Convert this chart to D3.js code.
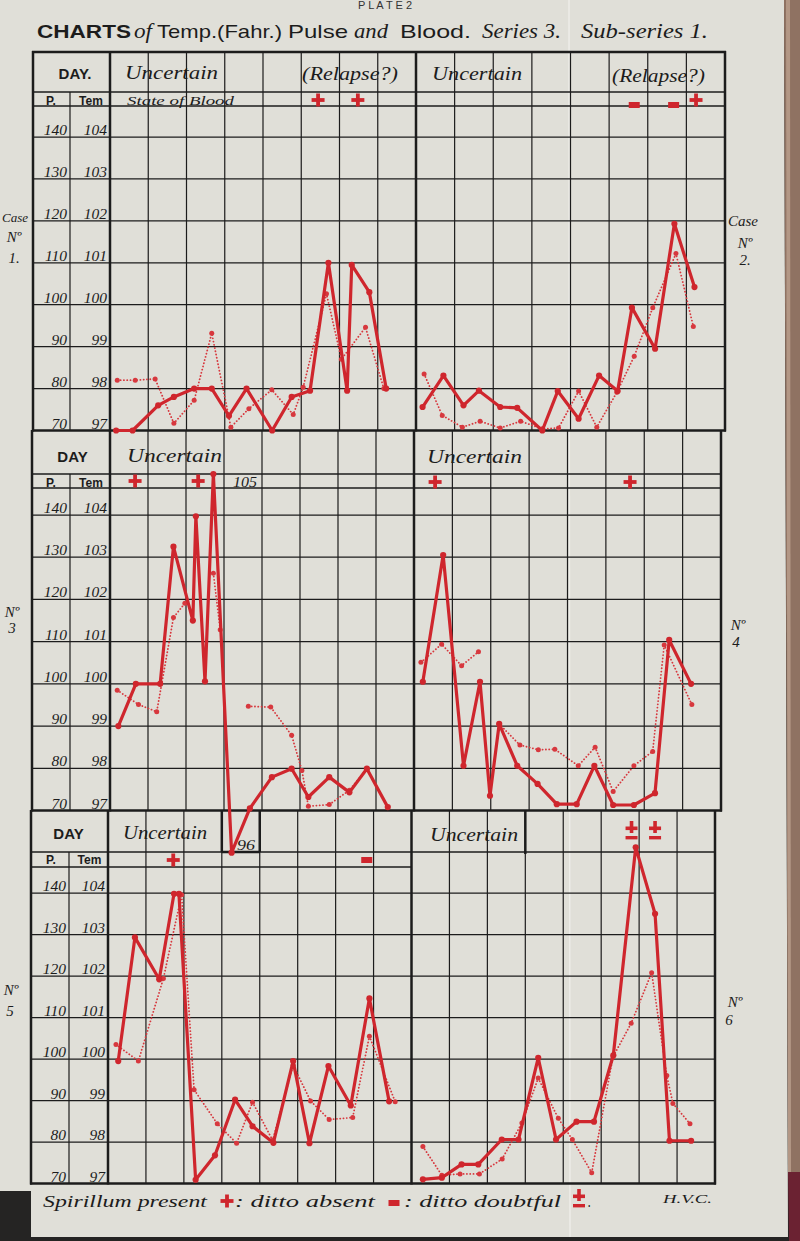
<!DOCTYPE html>
<html><head><meta charset="utf-8">
<script src="https://cdn.jsdelivr.net/npm/d3@7"></script>
<style>html,body{margin:0;padding:0;background:#262524;}svg{display:block}</style>
</head><body>
<svg id="c" width="800" height="1241"></svg>
<script>
// ---------- DATA (read from the plate) ----------
const tempTicks  = [97, 98, 99, 100, 101, 102, 103, 104];
const pulseTicks = [70, 80, 90, 100, 110, 120, 130, 140];

// day position (0-8 across each panel), temperature (°F) and pulse
const case1TempDay  = [0.16,0.59,1.26,1.67,2.20,2.66,3.11,3.57,4.24,4.75,5.23,5.71,6.20,6.32,6.78,7.22];
const case1Temp     = [97.0,97.0,97.6,97.8,98.0,98.0,97.35,98.0,97.0,97.8,97.95,101.0,97.95,100.95,100.3,98.0];
const case1PulseDay = [0.19,0.66,1.18,1.67,2.20,2.66,3.16,3.63,4.23,4.79,5.05,5.66,6.05,6.68,7.16];
const case1Pulse    = [82,82,82.3,71.7,77.2,93.2,70.8,75.2,79.7,73.8,80.3,102.6,87,94.6,80];

const case2TempDay  = [0.17,0.71,1.23,1.63,2.18,2.62,3.27,3.67,4.21,4.74,5.22,5.59,6.19,6.69,7.21];
const case2Temp     = [97.56,98.31,97.6,97.95,97.56,97.54,97.0,97.94,97.28,98.31,97.94,99.93,98.95,101.93,100.42];
const case2PulseDay = [0.21,0.68,1.20,1.66,2.18,2.71,3.27,3.69,4.21,4.68,5.20,5.65,6.13,6.73,7.18];
const case2Pulse    = [83.5,73.6,70.8,72.2,70.6,72.2,70.4,70.6,79.4,70.8,79.1,87.7,99.3,112.2,94.8];

const case3TempDay  = [0.22,0.68,1.32,1.67,2.18,2.26,2.50,2.72,3.20,3.68,4.26,4.78,5.22,5.77,6.30,6.76,7.31];
const case3Temp     = [99.0,100.0,100.0,103.25,101.5,103.97,100.06,104.97,96.0,97.05,97.79,97.99,97.32,97.79,97.43,97.99,97.08];
const case3PulseDay = [0.19,0.75,1.23,1.67,1.97,2.30,2.72,2.90,3.30,3.64,4.23,4.78,5.05,5.22,5.77,6.30,6.76];
const case3Pulse    = [98.5,95.1,93.4,115.7,119.1,null,126.2,112.8,null,94.7,94.5,87.8,79.5,71,71.4,74.8,79.9];

const case4TempDay  = [0.23,0.76,1.29,1.72,1.98,2.22,2.69,3.22,3.72,4.24,4.70,5.19,5.73,6.28,6.65,7.22];
const case4Temp     = [100.05,103.05,98.06,100.05,97.35,99.05,98.06,97.63,97.15,97.15,98.06,97.13,97.13,97.41,101.04,100.0];
const case4PulseDay = [0.18,0.72,1.24,1.68,1.95,2.22,2.76,3.24,3.67,4.28,4.72,5.19,5.73,6.22,6.52,7.24];
const case4Pulse    = [105.1,109.4,104.3,107.6,null,90.5,85.5,84.4,84.5,80.6,85,74.5,80.6,84,109.2,95.1];

const case5TempDay  = [0.27,0.71,1.35,1.74,1.87,2.31,2.82,3.35,3.81,4.36,4.88,5.31,5.81,6.40,6.89,7.41];
const case5Temp     = [99.95,102.93,101.92,103.98,103.98,97.09,97.68,99.02,98.38,97.98,99.95,97.97,99.83,98.88,101.46,98.98];
const case5PulseDay = [0.21,0.80,1.46,1.94,2.27,2.88,3.39,3.81,4.34,4.88,5.34,5.83,6.45,6.89,7.57];
const case5Pulse    = [103.5,99.5,119.4,139.6,92.6,84.4,79.7,89.6,80.4,98.5,89.9,85.4,85.9,105.5,89.7];

const case6TempDay  = [0.30,0.80,1.32,1.76,2.38,2.82,3.34,3.81,4.35,4.81,5.32,5.91,6.42,6.80,7.37];
const case6Temp     = [97.1,97.14,97.46,97.46,98.06,98.06,100.03,98.06,98.49,98.49,100.09,105.1,103.5,98.03,98.03];
const case6PulseDay = [0.30,0.80,1.28,1.79,2.39,2.91,3.34,3.87,4.24,4.75,5.31,5.79,6.33,6.73,6.89,7.34];
const case6Pulse    = [78.9,72,72.3,72.3,75.9,84.6,95.4,85.7,80.6,72.6,100.5,108.6,120.8,96,89.3,84.4];

// state of blood (spirillum) markers
const markCase = [1,1,2,2,2,3,3,4,4,5,5,6,6];
const markDay  = [5.44,6.48,5.65,6.67,7.25,0.66,2.32,0.55,5.63,1.72,6.82,5.80,6.42];
const markSign = ['+','+','-','-','+','+','+','+','+','+','-','±','±'];

// ---------- LAYOUT ----------
const svg = d3.select('#c');
const W = 800, H = 1241;
const RED = '#cf262d', RED2 = '#d7383e', INK = '#1c1c1c', PAPER = '#e0dfd8';
const SERIF = '"Liberation Serif","DejaVu Serif",serif';
const SANS = '"Liberation Sans","DejaVu Sans",sans-serif';

svg.append('rect').attr('width', W).attr('height', H).attr('fill', '#252423');
svg.append('path').attr('d', 'M0,0 L784,0 L788,1237 L31,1237 L31,1191 L0,1191 Z').attr('fill', PAPER);
svg.append('path').attr('d', 'M784,0 L800,0 L800,1172 L788,1172 Z').attr('fill', '#8f7262');
svg.append('path').attr('d', 'M786,0 L790,0 L791,1172 L788,1172 Z').attr('fill', '#b39785');
svg.append('path').attr('d', 'M788,1172 L800,1172 L800,1241 L789,1241 Z').attr('fill', '#6b2232');
// page fold
svg.append('line').attr('x1', 569).attr('x2', 570).attr('y1', 0).attr('y2', 1237)
  .attr('stroke', '#f2f2ee').attr('stroke-width', 1.4).attr('opacity', 0.8);

const rows = [
  {top: 52,  head: 92,  blood: 106, y97: 430.5,  y104: 137, xo: 33, xpt: 70, xl: 110, xm: 416,   xr: 725, bloodRight: true},
  {top: 431, head: 474, blood: 488, y97: 810.5,  y104: 515, xo: 32, xpt: 70, xl: 110, xm: 414,   xr: 721, bloodRight: true},
  {top: 811, head: 852, blood: 867, y97: 1183.5, y104: 893, xo: 31, xpt: 69, xl: 108, xm: 411.5, xr: 715, bloodRight: false}
];
rows.forEach(r => {
  r.ys = d3.scaleLinear().domain([97, 104]).range([r.y97, r.y104]);
  r.ps = d3.scaleLinear().domain([70, 140]).range([r.y97, r.y104]);
});

const panels = [
  {row: 0, side: 0, td: case1TempDay, t: case1Temp, pd: case1PulseDay, p: case1Pulse},
  {row: 0, side: 1, td: case2TempDay, t: case2Temp, pd: case2PulseDay, p: case2Pulse},
  {row: 1, side: 0, td: case3TempDay, t: case3Temp, pd: case3PulseDay, p: case3Pulse},
  {row: 1, side: 1, td: case4TempDay, t: case4Temp, pd: case4PulseDay, p: case4Pulse},
  {row: 2, side: 0, td: case5TempDay, t: case5Temp, pd: case5PulseDay, p: case5Pulse},
  {row: 2, side: 1, td: case6TempDay, t: case6Temp, pd: case6PulseDay, p: case6Pulse}
];
panels.forEach(pn => {
  const r = rows[pn.row];
  pn.r = r;
  pn.xs = d3.scaleLinear().domain([0, 8]).range(pn.side ? [r.xm, r.xr] : [r.xl, r.xm]);
});

function hline(g, x1, x2, y, w) {
  g.append('line').attr('x1', x1).attr('x2', x2).attr('y1', y).attr('y2', y)
    .attr('stroke', INK).attr('stroke-width', w);
}
function vline(g, x, y1, y2, w) {
  g.append('line').attr('x1', x).attr('x2', x).attr('y1', y1).attr('y2', y2)
    .attr('stroke', INK).attr('stroke-width', w);
}
function text(g, s, x, y, o) {
  o = o || {};
  const t = g.append('text').attr('x', x).attr('y', y).text(s)
    .attr('font-family', o.sans ? SANS : SERIF)
    .attr('font-style', o.sans ? 'normal' : 'italic')
    .attr('font-weight', o.bold ? 'bold' : 'normal')
    .attr('font-size', o.size || 16)
    .attr('fill', o.fill || INK)
    .attr('text-anchor', o.anchor || 'start');
  if (o.len) t.attr('textLength', o.len).attr('lengthAdjust', 'spacingAndGlyphs');
  return t;
}

const grid = svg.append('g');

// ---------- GRID ----------
rows.forEach((r, ri) => {
  tempTicks.filter(t => t > 97).forEach(t => hline(grid, r.xo, r.xr, r.ys(t), 1.25));
  hline(grid, r.xo, r.xr, r.head, 1.7);
  hline(grid, r.xo, r.bloodRight ? r.xr : r.xm, r.blood, 1.5);
  panels.filter(p => p.row === ri).forEach(p => {
    d3.range(1, 8).forEach(i => vline(grid, p.xs(i), r.top, r.y97, 1.2));
  });
  vline(grid, r.xpt, r.head, r.y97, 1.2);
  [r.xo, r.xl, r.xm, r.xr].forEach(x => vline(grid, x, r.top - 1, r.y97 + 1, 2.5));
  hline(grid, r.xo - 1, r.xr + 1, r.y97, 2.7);
  if (ri === 0) hline(grid, r.xo - 1, r.xr + 1, r.top, 2.7);

  // axis labels
  tempTicks.forEach((t, i) => {
    text(grid, String(pulseTicks[i]), r.xpt - 3, r.ys(t) - 2, {size: 15.5, anchor: 'end'});
    text(grid, String(t), r.xl - 3, r.ys(t) - 2, {size: 15.5, anchor: 'end'});
  });
  // column heads
  const dayCx = [75, 72.5, 68.5][ri], dayBy = [79, 462, 839][ri];
  text(grid, ri === 0 ? 'DAY.' : 'DAY', dayCx, dayBy, {sans: true, bold: true, size: 15, anchor: 'middle'});
  const pBy = [104.5, 486.5, 864][ri];
  text(grid, 'P.', 51, pBy, {sans: true, bold: true, size: 12, anchor: 'middle'});
  text(grid, 'Tem', (r.xpt + r.xl) / 2 + 1, pBy, {sans: true, bold: true, size: 12, anchor: 'middle'});
});

// special boxes in the bottom row header
const p5 = panels[4], p6 = panels[5], r3 = rows[2];
grid.append('rect').attr('x', p5.xs(3)).attr('y', r3.top + 1).attr('width', p5.xs(4) - p5.xs(3))
  .attr('height', r3.head - r3.top - 1).attr('fill', PAPER);
vline(grid, p5.xs(3), r3.top, r3.head, 2.5);
vline(grid, p5.xs(4), r3.top, r3.head, 2.5);
hline(grid, p5.xs(3), p5.xs(4), r3.head, 2.5);
vline(grid, p6.xs(3), r3.top, r3.head + 2, 2.5);

// ---------- HEADER TEXT ----------
const headerText  = ['Uncertain', '(Relapse?)', 'State of Blood', 'Uncertain', '(Relapse?)',
                     'Uncertain', '105', 'Uncertain', 'Uncertain', '96', 'Uncertain'];
const headerX     = [125, 302, 127, 432, 612, 127, 233, 427, 123, 237, 430];
const headerY     = [79, 80, 104.5, 80, 82, 462, 486.5, 463, 839, 850, 841];
const headerLen   = [93, 96, 107, 90, 93, 95, 24, 95, 84, 18, 88];
const headerSize  = [19, 19, 13, 19, 19, 19, 14, 19, 18, 14, 18];
headerText.forEach((s, i) => text(grid, s, headerX[i], headerY[i], {size: headerSize[i], len: headerLen[i]}));

// ---------- SERIES ----------
const plot = svg.append('g');
panels.forEach(pn => {
  const r = pn.r;
  const tData = pn.td.map((d, i) => ({d, v: pn.t[i]}));
  const pData = pn.pd.map((d, i) => ({d, v: pn.p[i]}));
  const pulseLine = d3.line().defined(d => d.v != null).x(d => pn.xs(d.d)).y(d => r.ps(d.v));
  const tempLine = d3.line().x(d => pn.xs(d.d)).y(d => r.ys(d.v));
  plot.append('path').attr('d', pulseLine(pData)).attr('fill', 'none')
    .attr('stroke', RED2).attr('stroke-width', 1.8).attr('stroke-dasharray', '0.1 3.2')
    .attr('stroke-linecap', 'round');
  plot.selectAll(null).data(pData.filter(d => d.v != null)).enter().append('circle')
    .attr('cx', d => pn.xs(d.d)).attr('cy', d => r.ps(d.v)).attr('r', 2.5).attr('fill', RED2);
  plot.append('path').attr('d', tempLine(tData)).attr('fill', 'none')
    .attr('stroke', RED).attr('stroke-width', 3.2).attr('stroke-linejoin', 'round');
  plot.selectAll(null).data(tData).enter().append('circle')
    .attr('cx', d => pn.xs(d.d)).attr('cy', d => r.ys(d.v)).attr('r', 3.1).attr('fill', RED);
});

// ---------- SPIRILLUM MARKS ----------
function mark(g, sign, cx, cy) {
  const f = RED;
  if (sign === '+') {
    g.append('rect').attr('x', cx - 6.5).attr('y', cy - 1.9).attr('width', 13).attr('height', 3.8).attr('fill', f);
    g.append('rect').attr('x', cx - 1.9).attr('y', cy - 6.5).attr('width', 3.8).attr('height', 13).attr('fill', f);
  } else if (sign === '-') {
    g.append('rect').attr('x', cx - 5.5).attr('y', cy - 3).attr('width', 11).attr('height', 6).attr('fill', f);
  } else {
    g.append('rect').attr('x', cx - 6).attr('y', cy - 6.5).attr('width', 12).attr('height', 3.6).attr('fill', f);
    g.append('rect').attr('x', cx - 1.8).attr('y', cy - 12).attr('width', 3.6).attr('height', 12).attr('fill', f);
    g.append('rect').attr('x', cx - 6).attr('y', cy + 3).attr('width', 12).attr('height', 3.4).attr('fill', f);
  }
}
const markY = [100, 100, 481, 482, 860, 833];
const marks = svg.append('g');
markCase.forEach((c, i) => {
  const pn = panels[c - 1];
  let y = markY[c - 1];
  if (markSign[i] === '-' && c === 2) y = 105;
  mark(marks, markSign[i], pn.xs(markDay[i]), y);
});

// ---------- TITLE, SIDE LABELS, FOOTER ----------
text(svg, 'P L A T E   2', 385, 9, {sans: true, size: 11, anchor: 'middle', fill: '#333'});
const titleText = ['CHARTS', 'of', 'Temp.(Fahr.)', 'Pulse', 'and', 'Blood.', 'Series 3.', 'Sub-series 1.'];
const titleX    = [37, 134, 157, 288, 354, 400, 482, 581];
const titleLen  = [94, 18, 125, 60, 34, 71, 79, 127];
const titleSans = [true, false, true, true, false, true, false, false];
titleText.forEach((s, i) => text(svg, s, titleX[i], 38,
  {sans: titleSans[i], bold: i === 0, size: titleSans[i] ? 19 : 20, len: titleLen[i]}));

const sideText = ['Case', 'Nº', '2.', 'Nº', '4', 'Nº', '6', 'Case', 'Nº', '1.', 'Nº', '3', 'Nº', '5'];
const sideX    = [743, 745, 745, 738, 736, 735, 729, 2, 14, 14, 12, 12, 11, 10];
const sideY    = [226, 248, 265, 630, 647, 1007, 1025, 222, 242, 263, 617, 633, 995, 1016];
sideText.forEach((s, i) => text(svg, s, sideX[i], sideY[i],
  {size: i === 7 ? 13 : 15, anchor: i === 7 ? 'start' : 'middle', len: i === 7 ? 26 : null}));

const footText = ['Spirillum present', ': ditto absent', ': ditto doubtful', '.'];
const footX    = [43, 235, 404, 588];
const footLen  = [164, 140, 157, 3];
footText.forEach((s, i) => text(svg, s, footX[i], 1207, {size: 17, len: footLen[i]}));
mark(svg, '+', 227, 1201);
mark(svg, '-', 394, 1203);
mark(svg, '±', 579, 1201);
text(svg, 'H.V.C.', 663, 1203, {size: 12, len: 49});
</script>
</body></html>
